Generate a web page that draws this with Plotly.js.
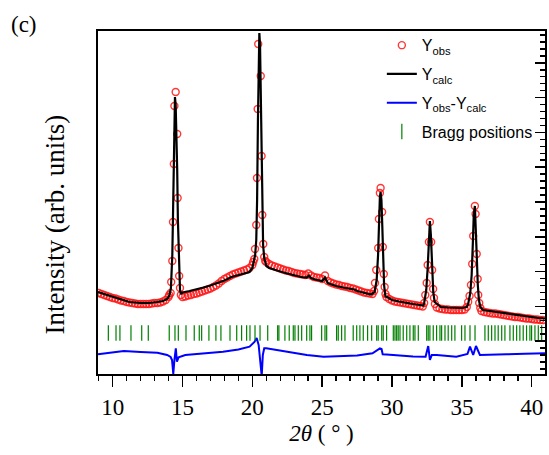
<!DOCTYPE html>
<html>
<head>
<meta charset="utf-8">
<script src="https://cdn.plot.ly/plotly-3.0.1.min.js"></script>
<style>html,body{margin:0;padding:0;background:#fff;}#chart{width:549px;height:455px;}</style>
</head>
<body>
<div id="chart"></div>
<script>
// 2theta (deg) and intensity (arb. units)
const obsX = [9.0,9.2,9.4,9.6,9.8,10.0,10.2,10.4,10.6,10.8,11.0,11.2,11.4,11.6,11.8,12.0,12.2,12.4,12.6,12.8,13.0,13.2,13.4,13.6,13.8,14.0,14.05,14.15,14.19,14.27,14.32,14.38,14.42,14.51,14.62,14.65,14.71,14.76,14.82,14.88,15.0,15.2,15.4,15.6,15.8,16.0,16.2,16.4,16.6,16.8,17.0,17.2,17.4,17.6,17.8,18.0,18.2,18.4,18.6,18.8,19.0,19.2,19.4,19.6,19.8,20.0,20.06,20.14,20.19,20.28,20.33,20.38,20.42,20.60,20.66,20.71,20.78,20.85,20.92,21.0,21.2,21.4,21.6,21.8,22.0,22.2,22.4,22.6,22.8,23.0,23.2,23.4,23.6,23.8,24.0,24.2,24.4,24.6,24.8,25.0,25.2,25.4,25.6,25.8,26.0,26.2,26.4,26.6,26.8,27.0,27.2,27.4,27.6,27.8,28.0,28.2,28.4,28.6,28.72,28.78,28.87,29.01,29.06,29.13,29.18,29.29,29.34,29.41,29.47,29.53,29.6,29.8,30.0,30.2,30.4,30.6,30.8,31.0,31.2,31.4,31.6,31.8,32.0,32.2,32.30,32.38,32.48,32.55,32.64,32.71,32.80,32.87,32.94,33.00,33.07,33.2,33.4,33.6,33.8,34.0,34.2,34.4,34.6,34.8,35.0,35.2,35.35,35.45,35.55,35.65,35.74,35.81,35.93,35.98,36.06,36.13,36.17,36.24,36.32,36.4,36.6,36.8,37.0,37.2,37.4,37.6,37.8,38.0,38.2,38.4,38.6,38.8,39.0,39.2,39.4,39.6,39.8,40.0,40.2,40.4,40.6,40.8];
const obsY = [830,820,810,800,790,780,775,765,755,750,740,735,730,725,720,720,720,720,720,725,730,730,735,745,760,790,810,830,940,1150,1540,2120,2700,2840,2420,1780,1280,1000,880,810,790,795,805,810,820,825,835,845,855,865,875,890,905,925,950,970,985,1000,1015,1025,1035,1045,1055,1065,1080,1110,1140,1170,1270,1510,1980,2670,3320,3000,2200,1610,1320,1190,1150,1140,1120,1105,1095,1085,1075,1065,1055,1050,1040,1030,1025,1020,1015,1010,1025,1005,990,985,980,970,1005,950,935,925,915,910,900,895,890,880,875,865,855,845,835,830,825,820,850,930,1060,1280,1570,1830,1880,1640,1290,1020,890,820,790,770,755,745,740,735,730,725,720,715,710,705,700,695,730,810,930,1110,1340,1540,1340,1060,870,780,720,685,675,670,665,665,660,660,660,660,660,665,690,740,800,910,1120,1400,1700,1620,1220,970,810,730,680,650,640,635,630,625,625,620,615,610,605,600,595,590,590,585,580,575,575,570,565,565,560,560];

const calcX = [8.95,9.4,10.0,10.6,11.2,12.0,12.6,13.2,13.6,13.9,14.05,14.17,14.22,14.27,14.32,14.37,14.41,14.46,14.51,14.56,14.62,14.67,14.72,14.77,14.82,14.88,15.0,15.5,16.0,16.5,17.0,17.5,18.0,18.5,19.0,19.5,19.8,20.0,20.10,20.20,20.28,20.34,20.40,20.45,20.50,20.55,20.60,20.66,20.71,20.77,20.85,20.92,21.0,21.2,21.5,22.0,22.5,23.0,23.5,23.9,24.05,24.2,24.5,25.0,25.2,25.4,25.7,26.0,26.5,27.0,27.3,27.5,28.0,28.5,28.75,28.90,29.00,29.07,29.13,29.18,29.24,29.30,29.36,29.43,29.52,29.8,30.0,30.5,31.0,31.5,32.0,32.25,32.30,32.45,32.55,32.63,32.71,32.78,32.86,32.95,33.05,33.5,34.0,34.5,35.0,35.35,35.45,35.60,35.70,35.78,35.85,35.93,36.00,36.07,36.14,36.22,36.32,36.5,37.0,37.5,38.0,38.5,39.0,39.5,40.0,40.5,40.95];
const calcY = [840,820,790,760,740,730,730,740,750,770,800,880,1010,1210,1610,2110,2560,2790,2710,2460,2060,1560,1210,980,860,820,835,850,865,885,905,930,955,990,1010,1025,1040,1080,1140,1210,1360,1760,2560,3160,3430,3310,2860,2160,1610,1310,1180,1140,1100,1080,1065,1045,1025,1005,990,985,1005,980,965,950,985,930,915,900,885,870,865,850,830,815,840,960,1210,1560,1790,1840,1760,1510,1160,910,800,775,760,745,730,720,710,705,730,860,1080,1360,1550,1410,1080,840,740,690,685,680,680,690,720,830,1010,1310,1610,1700,1510,1180,910,760,690,660,650,640,625,615,605,595,585,580,575];

const diffX = [8.95,10.0,10.8,12.0,13.2,13.9,14.15,14.25,14.34,14.42,14.52,14.60,14.72,15.2,16.5,17.9,19.0,19.8,20.15,20.31,20.45,20.60,20.67,20.75,20.85,21.0,21.7,22.8,23.9,25.1,26.5,27.5,28.6,28.95,29.13,29.25,29.33,29.6,30.5,31.5,32.4,32.59,32.71,32.85,33.2,34.6,35.4,35.58,35.81,36.01,36.29,37.0,38.2,39.5,40.95];
const diffY = [217,240,250,240,233,210,190,160,20,160,277,143,187,210,227,243,265,293,340,380,310,40,0,210,277,277,260,230,210,193,200,205,227,260,277,270,217,215,205,195,193,300,160,210,210,193,220,293,210,300,210,210,217,222,227];

const braggX = [9.69,10.24,10.52,11.31,12.08,12.55,14.05,14.46,14.70,15.25,15.84,16.20,16.37,16.89,17.39,17.75,18.40,18.88,19.23,19.59,19.83,20.19,20.55,21.10,21.81,21.90,22.33,22.64,22.93,23.05,23.29,23.53,23.89,24.12,24.24,24.96,25.20,25.32,26.03,26.15,26.39,26.63,27.22,27.47,27.70,27.94,28.25,28.54,28.90,29.01,29.26,29.37,29.61,30.09,30.21,30.33,30.44,30.57,30.80,31.05,31.28,31.52,31.64,31.88,32.48,32.59,32.71,32.95,33.19,33.43,33.55,33.79,34.02,34.27,34.50,34.98,35.22,35.58,35.94,36.65,36.89,37.13,37.37,37.60,37.85,38.08,38.44,38.68,38.92,39.15,39.39,39.63,39.87,39.99,40.23,40.47,40.71];

const xTicks = [10,15,20,25,30,35,40];
const xTickText = ['10','15','20','25','30','35','40'];
const seriesNames = ['Y<sub>obs</sub>','Y<sub>calc</sub>','Y<sub>obs</sub>-Y<sub>calc</sub>','Bragg positions'];

const braggLevel = 430;
const serif = 'Liberation Serif, Times New Roman, serif';
const sans = 'Liberation Sans, Arial, sans-serif';
const obsRed = 'rgba(255,20,20,0.85)';

const traces = [
  {x: obsX, y: obsY, name: seriesNames[0], legendgroup: 'g1', type: 'scatter', mode: 'markers',
   marker: {symbol: 'circle-open', size: 7, color: obsRed, line: {width: 1.4, color: obsRed}}},
  {x: calcX, y: calcY, name: seriesNames[1], legendgroup: 'g2', type: 'scatter', mode: 'lines',
   line: {color: '#000000', width: 2.2}},
  {x: diffX, y: diffY, name: seriesNames[2], legendgroup: 'g3', type: 'scatter', mode: 'lines',
   line: {color: '#0000ff', width: 2}},
  {x: braggX, y: braggX.map(() => braggLevel), name: seriesNames[3], legendgroup: 'g4', type: 'scatter', mode: 'markers',
   marker: {symbol: 'line-ns', size: 11, color: '#008000', line: {width: 1.2, color: '#008000'}}}
];

const layout = {
  width: 549, height: 455,
  margin: {l: 98, r: 4, t: 31, b: 81},
  paper_bgcolor: '#ffffff', plot_bgcolor: '#ffffff',
  showlegend: true,
  legend: {x: 0.635, y: 1.008, xanchor: 'left', yanchor: 'top', bgcolor: 'rgba(0,0,0,0)',
           font: {family: sans, size: 16, color: '#000'}, tracegroupgap: 5},
  xaxis: {
    range: [8.95, 40.95], tickmode: 'array', tickvals: xTicks, ticktext: xTickText,
    ticks: 'outside', ticklen: 11, tickwidth: 1.5, tickcolor: '#000',
    minor: {dtick: 1, tick0: 0, ticks: 'outside', ticklen: 5, tickwidth: 1.5, tickcolor: '#000', showgrid: false},
    showline: true, linewidth: 2, linecolor: '#000', mirror: true,
    showgrid: false, zeroline: false,
    tickfont: {family: serif, size: 23, color: '#000'},
    title: {text: '<i>2θ</i> ( ° )', font: {family: serif, size: 23, color: '#000'}, standoff: 6}
  },
  yaxis: {
    range: [20, 3450], side: 'right', showticklabels: false,
    tick0: 0, dtick: 348, ticks: 'inside', ticklen: 10, tickwidth: 1.5, tickcolor: '#000',
    minor: {dtick: 69.6, tick0: 0, ticks: 'inside', ticklen: 5, tickwidth: 1.5, tickcolor: '#000', showgrid: false},
    showline: true, linewidth: 2, linecolor: '#000', mirror: true,
    showgrid: false, zeroline: false
  },
  annotations: [
    {text: 'Intensity (arb. units)', xref: 'paper', yref: 'paper', x: -0.096, y: 0.436,
     xanchor: 'center', yanchor: 'middle', textangle: -90, showarrow: false,
     font: {family: serif, size: 27, color: '#000'}},
    {text: '(c)', xref: 'paper', yref: 'paper', x: -0.199, y: 1.02,
     xanchor: 'left', yanchor: 'middle', showarrow: false,
     font: {family: serif, size: 23, color: '#000'}}
  ]
};

Plotly.newPlot('chart', traces, layout, {displayModeBar: false, staticPlot: true});
</script>
</body>
</html>
